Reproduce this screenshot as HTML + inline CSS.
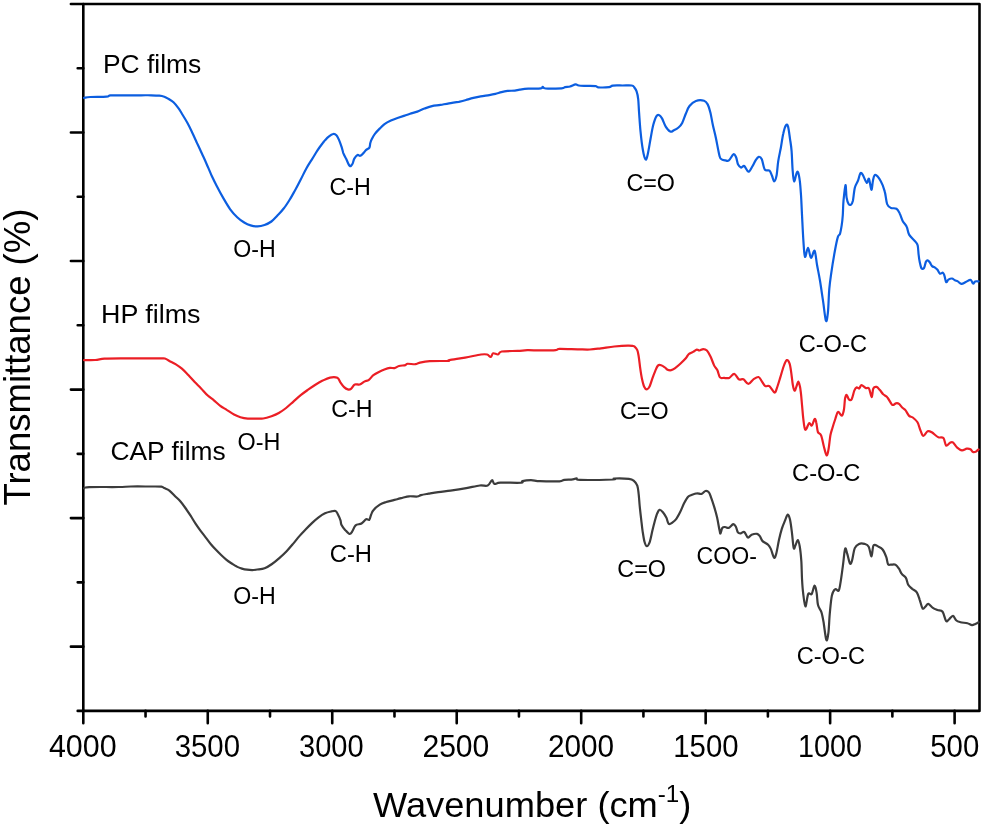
<!DOCTYPE html>
<html><head><meta charset="utf-8"><title>FTIR spectra</title>
<style>
html,body{margin:0;padding:0;background:#fff;}
body{width:984px;height:827px;overflow:hidden;}
svg{display:block;}
text{font-family:"Liberation Sans",Arial,sans-serif;fill:#000;}
</style></head>
<body>
<svg width="984" height="827" viewBox="0 0 984 827">
<rect x="83.3" y="4.0" width="896.2" height="706.9" fill="none" stroke="#000" stroke-width="2.6" stroke-linejoin="round"/>
<path d="M83.30,710.9v12.4M145.54,710.9v5.6M207.77,710.9v12.4M270.01,710.9v5.6M332.24,710.9v12.4M394.48,710.9v5.6M456.72,710.9v12.4M518.95,710.9v5.6M581.19,710.9v12.4M643.42,710.9v5.6M705.66,710.9v12.4M767.90,710.9v5.6M830.13,710.9v12.4M892.37,710.9v5.6M954.61,710.9v12.4M83.3,4.00h-12.4M83.3,68.26h-5.6M83.3,132.53h-12.4M83.3,196.79h-5.6M83.3,261.05h-12.4M83.3,325.32h-5.6M83.3,389.58h-12.4M83.3,453.85h-5.6M83.3,518.11h-12.4M83.3,582.37h-5.6M83.3,646.64h-12.4M83.3,710.90h-5.6" stroke="#000" stroke-width="2.6" stroke-linecap="round" fill="none"/>
<path d="M84.1,97.8C85.1,97.7 86.5,97.2 90.2,97.0C93.9,96.8 103.0,97.0 106.4,96.7C109.8,96.4 107.8,95.6 110.5,95.4C113.2,95.2 117.6,95.3 122.7,95.3C127.8,95.3 136.3,95.3 141.0,95.3C145.7,95.3 148.0,95.2 151.1,95.3C154.2,95.4 157.1,95.5 159.3,95.7C161.5,95.9 162.8,96.2 164.3,96.7C165.8,97.2 166.9,97.9 168.4,98.8C169.9,99.7 171.8,100.7 173.5,102.3C175.2,103.9 177.2,106.5 178.6,108.4C180.0,110.3 180.5,111.4 181.9,113.7C183.3,116.0 185.6,119.6 187.2,122.5C188.8,125.4 190.0,127.8 191.6,131.2C193.2,134.5 195.1,138.8 196.8,142.6C198.6,146.4 200.5,150.5 202.1,154.0C203.7,157.5 204.9,160.0 206.5,163.7C208.1,167.4 210.1,172.2 211.8,176.0C213.6,179.8 215.1,182.8 217.0,186.5C218.9,190.2 221.0,194.1 223.2,197.9C225.4,201.7 227.9,206.1 230.2,209.3C232.5,212.5 234.9,215.0 237.2,217.2C239.5,219.4 242.0,221.1 244.2,222.5C246.4,223.9 248.4,224.8 250.6,225.4C252.8,226.1 255.2,226.5 257.5,226.4C259.8,226.3 262.2,225.8 264.5,225.0C266.8,224.2 269.1,223.2 271.4,221.5C273.7,219.8 276.3,216.8 278.4,214.6C280.5,212.4 282.0,210.7 283.9,208.3C285.8,205.9 287.6,203.0 289.5,200.0C291.4,197.0 293.2,193.6 295.1,190.2C297.0,186.8 298.8,183.4 300.6,179.8C302.5,176.2 304.3,172.1 306.2,168.7C308.1,165.3 309.9,162.6 311.8,159.6C313.7,156.6 315.5,153.4 317.3,150.6C319.1,147.8 321.6,144.6 322.9,142.9C324.2,141.2 324.0,141.4 325.0,140.3C326.0,139.2 327.3,137.7 328.7,136.6C330.1,135.5 331.9,134.2 333.2,134.0C334.5,133.8 335.5,134.3 336.4,135.2C337.3,136.1 337.8,137.4 338.7,139.3C339.6,141.2 340.7,144.4 341.5,146.7C342.3,149.0 342.6,151.1 343.3,153.1C344.1,155.1 344.9,156.5 346.0,158.6C347.1,160.7 348.6,165.0 349.7,165.9C350.8,166.8 351.6,165.2 352.4,164.0C353.2,162.8 353.4,160.1 354.3,158.6C355.2,157.1 356.5,155.4 357.5,154.9C358.5,154.4 359.2,156.1 360.2,155.8C361.2,155.5 362.4,154.1 363.4,153.1C364.4,152.1 365.2,150.8 366.2,149.9C367.2,149.0 368.7,148.8 369.4,147.6C370.1,146.4 369.9,144.4 370.3,143.0C370.7,141.6 370.9,140.8 371.7,139.3C372.5,137.8 373.5,135.7 374.9,133.9C376.3,132.1 378.3,130.0 379.9,128.4C381.5,126.8 382.7,125.5 384.5,124.2C386.3,122.9 388.6,121.7 390.9,120.6C393.2,119.5 395.9,118.6 398.2,117.8C400.5,117.0 402.6,116.3 404.6,115.6C406.6,114.9 408.0,114.4 410.1,113.7C412.2,113.0 414.9,112.5 417.3,111.6C419.7,110.7 422.2,109.4 424.6,108.5C427.1,107.6 429.4,106.7 432.0,106.1C434.6,105.5 437.7,105.4 440.5,104.9C443.3,104.4 445.9,103.8 449.0,103.3C452.1,102.8 455.9,102.3 458.8,101.8C461.7,101.2 463.7,100.7 466.1,100.0C468.5,99.3 471.0,98.5 473.4,97.9C475.8,97.3 478.0,96.8 480.7,96.3C483.4,95.8 486.9,95.5 489.3,95.1C491.8,94.7 493.4,94.4 495.4,93.9C497.4,93.4 499.5,92.6 501.5,92.1C503.5,91.6 505.4,91.2 507.6,90.9C509.8,90.7 512.9,90.8 514.9,90.6C516.9,90.4 517.6,89.9 519.8,89.6C522.0,89.3 524.8,88.9 528.3,88.7C531.8,88.5 538.5,88.6 540.9,88.3C543.3,88.0 541.9,86.8 542.7,86.8C543.5,86.8 542.6,88.2 545.7,88.5C548.9,88.8 558.4,88.5 561.6,88.3C564.9,88.1 563.8,87.4 565.2,87.1C566.6,86.8 568.4,87.0 570.1,86.5C571.8,86.0 574.2,84.6 575.6,84.4C577.0,84.2 577.0,85.2 578.7,85.5C580.4,85.8 583.2,85.8 586.0,85.9C588.8,86.0 593.7,85.9 595.7,86.1C597.7,86.3 596.0,87.1 598.2,87.3C600.4,87.5 606.7,87.4 609.1,87.1C611.5,86.8 610.5,85.9 612.8,85.6C615.0,85.3 619.5,85.5 622.6,85.5C625.8,85.5 629.8,85.2 631.7,85.5C633.6,85.8 633.3,86.1 634.1,87.1C634.9,88.1 635.9,89.3 636.6,91.3C637.3,93.3 637.8,95.5 638.2,99.1C638.6,102.7 638.7,107.6 639.1,112.9C639.5,118.2 639.9,125.1 640.5,131.2C641.1,137.3 641.9,144.8 642.8,149.5C643.6,154.2 644.8,158.8 645.6,159.5C646.4,160.2 647.0,157.5 647.8,154.0C648.6,150.5 649.7,143.4 650.6,138.5C651.5,133.6 652.3,128.5 653.3,124.8C654.3,121.1 655.5,117.7 656.5,116.1C657.5,114.5 658.4,114.8 659.3,115.2C660.2,115.6 660.9,116.5 662.0,118.4C663.1,120.3 664.3,124.4 665.7,126.6C667.1,128.8 668.9,131.0 670.3,131.6C671.7,132.2 672.5,131.0 673.9,130.3C675.3,129.6 677.1,128.7 678.5,127.5C679.9,126.3 681.0,125.2 682.2,122.9C683.4,120.6 684.6,116.6 685.8,113.8C687.0,111.0 687.8,108.1 689.5,106.0C691.2,103.9 693.5,101.9 695.9,101.0C698.3,100.1 702.1,100.2 704.1,100.8C706.1,101.4 706.7,102.6 707.8,104.6C708.9,106.6 709.7,109.5 710.5,112.9C711.3,116.3 711.9,120.5 712.8,124.8C713.7,129.1 714.9,133.3 716.0,138.5C717.1,143.7 718.6,152.7 719.6,156.2C720.6,159.7 720.8,158.6 721.7,159.3C722.7,160.0 724.1,160.2 725.3,160.4C726.5,160.6 727.5,161.4 728.9,160.4C730.3,159.4 732.3,154.7 733.5,154.2C734.7,153.7 735.3,155.6 736.1,157.3C736.9,159.0 737.2,162.8 738.1,164.5C739.0,166.2 740.2,167.3 741.2,167.6C742.2,167.8 743.1,165.3 744.3,166.0C745.5,166.7 747.1,171.5 748.4,171.7C749.7,171.9 750.8,168.9 752.0,167.0C753.2,165.1 754.5,162.1 755.6,160.4C756.7,158.7 757.7,157.0 758.7,156.8C759.7,156.6 760.8,157.2 761.8,159.3C762.8,161.4 763.5,167.7 764.8,169.6C766.1,171.5 768.3,169.6 769.5,170.6C770.7,171.6 771.2,174.0 772.0,175.8C772.8,177.6 773.4,181.4 774.1,181.4C774.9,181.4 775.8,179.1 776.5,175.8C777.2,172.5 777.5,166.0 778.2,161.4C778.9,156.8 779.9,152.6 780.8,148.0C781.6,143.4 782.4,137.4 783.3,133.6C784.1,129.8 785.1,126.6 785.9,125.4C786.7,124.2 787.3,124.2 788.0,126.4C788.7,128.6 789.4,134.7 790.0,138.8C790.6,142.9 791.2,146.0 791.6,151.1C792.0,156.2 792.2,164.5 792.6,169.6C793.0,174.7 793.4,180.9 794.1,181.4C794.8,181.9 796.0,174.1 796.7,172.7C797.4,171.2 797.7,171.3 798.2,172.7C798.7,174.1 799.3,177.2 799.8,180.9C800.3,184.6 800.6,189.3 801.0,195.0C801.4,200.7 801.6,207.3 802.0,214.9C802.4,222.5 802.9,233.8 803.4,240.8C803.9,247.8 804.2,255.6 805.0,256.8C805.8,258.0 807.0,247.6 808.0,247.8C809.0,248.0 809.9,257.3 811.0,257.8C812.1,258.3 813.6,249.6 814.6,250.8C815.6,252.0 816.1,259.8 817.0,264.8C817.9,269.8 819.0,274.8 820.0,280.8C821.0,286.8 822.0,294.1 823.0,300.7C824.0,307.3 825.1,318.7 825.9,320.7C826.7,322.7 827.3,318.0 827.9,312.7C828.5,307.4 828.7,295.4 829.3,288.8C829.9,282.2 830.4,279.1 831.3,272.8C832.2,266.5 833.8,256.8 834.9,250.8C836.0,244.8 837.0,239.7 837.9,236.9C838.8,234.1 839.4,235.6 840.0,233.8C840.6,232.0 841.1,229.0 841.6,225.9C842.1,222.8 842.5,219.2 842.8,215.0C843.1,210.8 843.0,205.8 843.5,200.8C844.0,195.8 845.0,185.6 845.5,185.1C846.0,184.6 846.1,194.5 846.6,197.7C847.1,200.8 847.9,202.8 848.6,204.0C849.3,205.2 850.3,205.2 851.0,204.7C851.7,204.2 852.2,203.7 852.9,200.8C853.5,197.9 854.0,190.9 854.9,187.5C855.8,184.1 857.2,182.8 858.1,180.4C859.0,178.0 859.6,174.2 860.4,173.3C861.2,172.4 861.8,173.3 862.8,174.9C863.8,176.5 865.7,182.2 866.7,182.8C867.7,183.5 868.2,177.6 869.0,178.8C869.8,180.0 870.7,189.5 871.4,189.8C872.1,190.1 872.4,182.9 873.0,180.4C873.6,177.9 874.0,174.8 875.3,174.9C876.6,175.0 879.2,178.4 880.8,181.2C882.4,183.9 883.7,187.6 884.7,191.4C885.8,195.2 886.1,201.2 887.1,204.0C888.1,206.8 889.4,207.1 891.0,207.9C892.6,208.7 895.0,207.8 896.5,208.7C898.0,209.6 898.7,211.3 899.7,213.4C900.8,215.5 901.6,219.0 902.8,221.2C904.0,223.4 905.7,224.5 906.7,226.7C907.8,228.9 907.7,232.1 909.1,234.6C910.5,237.1 914.0,239.8 915.4,241.6C916.8,243.4 917.2,243.4 917.7,245.6C918.2,247.8 918.3,251.8 918.6,254.5C918.9,257.2 919.2,259.5 919.7,261.8C920.2,264.1 920.8,267.3 921.5,268.3C922.2,269.3 923.4,269.0 924.1,267.9C924.8,266.8 925.3,263.1 925.9,261.8C926.5,260.5 927.0,260.2 927.7,260.3C928.4,260.4 929.2,261.5 929.9,262.5C930.6,263.5 931.2,265.2 932.1,266.1C933.0,267.0 934.1,267.0 935.0,267.6C935.9,268.2 936.7,268.8 937.5,269.8C938.3,270.8 939.1,273.2 940.0,273.7C940.9,274.2 942.2,272.4 942.9,272.7C943.6,273.0 943.8,274.0 944.4,275.6C945.0,277.2 945.5,281.4 946.2,282.1C946.9,282.8 947.4,280.2 948.4,279.6C949.4,279.0 950.9,278.4 952.0,278.5C953.1,278.6 953.9,279.8 954.9,280.3C955.9,280.8 956.7,280.8 957.8,281.4C958.9,282.0 960.1,283.8 961.4,283.9C962.7,284.0 964.3,282.8 965.8,282.1C967.3,281.4 969.3,279.7 970.5,279.9C971.7,280.1 972.3,283.2 973.1,283.5C973.9,283.8 974.3,281.8 975.2,281.4C976.1,281.0 978.0,281.4 978.6,281.4" fill="none" stroke="#0c5ee0" stroke-width="2.2" stroke-linejoin="round" stroke-linecap="round"/>
<path d="M84.1,360.2C85.9,360.2 91.8,360.2 95.2,360.0C98.6,359.8 100.2,359.0 104.4,358.7C108.7,358.4 114.6,358.4 120.7,358.4C126.8,358.3 134.2,358.4 141.0,358.4C147.8,358.4 157.2,358.3 161.3,358.4C165.4,358.4 164.1,358.3 165.4,358.7C166.8,359.1 167.7,360.1 169.4,361.0C171.1,361.9 173.4,362.8 175.5,364.1C177.6,365.4 179.8,366.9 181.9,368.7C184.0,370.5 186.2,372.9 188.3,375.1C190.4,377.3 192.6,379.8 194.7,382.0C196.8,384.2 199.0,386.2 201.1,388.4C203.2,390.6 205.4,393.3 207.5,395.3C209.6,397.3 211.8,398.6 213.9,400.3C216.0,402.1 218.2,404.2 220.3,405.8C222.4,407.4 224.4,408.4 226.7,409.9C229.0,411.3 231.7,413.3 234.0,414.5C236.3,415.7 238.1,416.5 240.4,417.2C242.7,417.9 245.4,418.4 247.8,418.6C250.2,418.8 252.4,418.6 255.0,418.6C257.6,418.6 260.4,418.9 263.2,418.5C265.9,418.1 268.9,417.1 271.5,416.2C274.1,415.3 276.4,414.4 278.8,413.0C281.2,411.6 283.7,409.9 286.1,408.0C288.5,406.1 291.0,403.7 293.4,401.6C295.8,399.5 298.2,397.2 300.7,395.2C303.1,393.2 305.7,391.4 308.1,389.7C310.6,387.9 313.0,386.2 315.4,384.7C317.8,383.2 320.3,381.8 322.7,380.6C325.1,379.4 327.6,378.1 330.0,377.6C332.4,377.1 335.6,377.0 337.3,377.8C339.1,378.6 339.4,380.9 340.5,382.5C341.6,384.1 342.9,386.0 344.1,387.1C345.3,388.2 346.7,389.1 347.8,389.4C348.9,389.7 349.9,389.7 351.0,388.9C352.1,388.1 353.2,385.2 354.7,384.5C356.1,383.8 358.1,385.0 359.7,384.5C361.3,384.0 362.8,382.4 364.3,381.6C365.8,380.8 367.4,380.9 368.9,379.8C370.4,378.7 371.7,376.5 373.4,375.2C375.1,373.9 377.1,372.9 378.9,372.0C380.7,371.1 382.6,370.2 384.4,369.5C386.2,368.8 388.2,368.1 389.9,367.9C391.6,367.7 393.0,368.4 394.5,368.1C396.0,367.8 397.2,366.5 399.0,366.0C400.8,365.5 404.0,365.5 405.4,365.1C406.8,364.7 405.6,364.0 407.3,363.8C409.0,363.6 413.5,364.4 415.5,364.2C417.5,364.0 416.8,363.3 419.2,362.8C421.6,362.3 425.0,361.5 429.8,361.2C434.6,360.9 444.8,361.1 448.0,360.9C451.2,360.7 446.4,360.6 449.3,360.0C452.2,359.4 459.8,358.5 465.1,357.6C470.4,356.7 477.3,355.0 481.0,354.5C484.7,354.0 485.5,354.1 487.1,354.5C488.7,354.9 489.7,357.2 490.7,357.0C491.7,356.8 492.0,353.7 493.2,353.3C494.4,352.9 496.6,354.8 498.0,354.5C499.4,354.2 498.4,352.1 501.7,351.5C505.0,350.9 513.3,351.1 517.6,350.9C521.9,350.7 523.6,350.3 527.3,350.2C531.0,350.1 535.3,350.4 540.0,350.4C544.7,350.4 552.5,350.4 555.7,350.1C558.9,349.9 555.7,349.0 559.4,348.9C563.1,348.8 572.6,349.2 577.7,349.3C582.8,349.4 586.0,349.7 589.9,349.5C593.8,349.3 596.8,348.8 600.9,348.3C605.0,347.8 609.8,346.9 614.3,346.5C618.8,346.1 624.7,345.7 627.7,345.6C630.8,345.5 631.5,345.7 632.6,345.9C633.8,346.1 633.8,345.9 634.6,346.6C635.4,347.3 636.6,348.5 637.3,350.1C638.0,351.8 638.2,353.6 638.7,356.5C639.2,359.4 639.6,363.8 640.1,367.4C640.6,371.0 641.2,375.2 641.9,378.4C642.6,381.6 643.4,384.9 644.2,386.7C645.0,388.5 646.0,389.5 646.9,389.4C647.8,389.3 648.8,388.0 649.7,386.2C650.6,384.4 651.5,380.9 652.4,378.4C653.3,375.9 654.3,373.2 655.2,371.1C656.1,369.0 656.9,366.6 657.9,365.6C658.9,364.6 660.0,364.9 661.1,365.2C662.2,365.5 663.7,366.6 664.8,367.4C665.9,368.1 666.4,369.2 667.5,369.7C668.6,370.2 670.0,370.4 671.2,370.2C672.4,370.0 673.3,369.5 674.8,368.4C676.3,367.3 678.5,365.5 680.3,363.8C682.1,362.1 684.4,359.9 685.8,358.3C687.2,356.7 687.4,355.3 688.6,354.2C689.8,353.1 691.7,352.7 693.1,351.9C694.5,351.1 695.7,349.8 696.8,349.6C697.9,349.4 698.4,350.6 699.5,350.5C700.6,350.4 702.0,349.1 703.2,349.1C704.4,349.1 705.7,349.3 706.9,350.5C708.1,351.7 709.3,354.0 710.5,356.5C711.7,359.0 713.1,363.3 714.2,365.6C715.3,367.9 716.3,368.1 717.3,370.1C718.3,372.1 718.9,376.1 720.0,377.4C721.1,378.7 722.6,377.8 724.1,377.9C725.6,378.0 727.5,378.6 729.2,377.9C730.9,377.2 732.6,373.6 734.2,373.8C735.8,374.0 737.3,378.4 738.8,379.3C740.3,380.2 741.8,378.5 743.4,379.3C745.0,380.1 746.7,383.9 748.4,383.9C750.1,383.9 751.7,380.4 753.4,379.3C755.1,378.2 757.1,376.7 758.5,377.0C759.9,377.3 760.6,379.6 761.7,381.1C762.8,382.6 764.0,385.3 765.3,386.1C766.6,386.9 767.9,385.0 769.4,386.1C770.9,387.2 773.3,392.1 774.5,392.5C775.7,392.9 775.9,390.8 776.8,388.4C777.7,386.0 778.9,382.0 780.0,378.4C781.1,374.8 782.5,369.6 783.6,366.5C784.7,363.4 785.8,360.6 786.8,360.1C787.8,359.6 788.8,361.4 789.6,363.7C790.4,366.0 790.9,370.3 791.4,373.8C791.9,377.3 792.3,382.0 792.8,384.8C793.3,387.6 794.0,390.4 794.6,390.7C795.2,391.0 795.8,388.1 796.4,386.6C797.0,385.1 797.7,381.7 798.3,381.6C798.9,381.6 799.4,384.2 799.9,386.3C800.4,388.4 800.6,390.6 801.0,393.9C801.4,397.2 801.7,401.9 802.1,405.9C802.5,409.9 802.7,413.9 803.2,417.9C803.7,421.9 804.3,428.9 805.3,429.8C806.3,430.7 808.0,424.0 809.1,423.3C810.2,422.6 811.0,426.2 811.9,425.5C812.8,424.8 813.9,419.6 814.6,419.0C815.3,418.4 815.7,420.0 816.2,422.2C816.8,424.4 817.1,429.8 817.9,432.0C818.7,434.2 820.1,432.9 821.1,435.3C822.1,437.7 822.9,442.9 823.8,446.2C824.7,449.5 825.8,455.0 826.6,455.4C827.4,455.8 828.1,451.6 828.7,448.3C829.3,445.0 829.8,438.7 830.4,435.3C831.0,431.9 831.7,430.4 832.5,427.7C833.3,425.0 834.4,421.6 835.3,419.0C836.2,416.4 836.9,412.4 838.0,411.9C839.1,411.3 840.8,416.1 841.8,415.7C842.8,415.2 843.5,412.1 844.0,409.2C844.5,406.3 844.6,400.7 845.1,398.3C845.6,395.9 846.1,394.8 846.7,395.0C847.3,395.2 848.1,398.7 848.9,399.4C849.7,400.1 850.7,400.8 851.6,399.4C852.5,397.9 853.5,392.7 854.3,390.7C855.1,388.7 855.7,387.8 856.5,387.4C857.3,387.0 858.4,388.9 859.2,388.5C860.0,388.1 860.3,385.3 861.4,385.2C862.5,385.1 864.4,387.4 865.7,388.0C867.0,388.6 868.0,387.0 869.0,388.5C870.0,390.0 871.0,397.2 871.7,397.2C872.4,397.2 872.5,390.2 873.3,388.5C874.1,386.8 875.5,386.6 876.6,386.9C877.7,387.2 878.8,388.9 879.9,390.1C881.0,391.3 882.0,393.1 883.2,394.3C884.5,395.5 885.9,395.6 887.4,397.4C888.9,399.1 890.8,403.8 892.2,404.8C893.6,405.8 894.8,403.5 895.9,403.3C897.0,403.1 898.0,403.1 899.0,403.8C900.0,404.5 901.1,406.4 902.2,407.5C903.3,408.6 904.2,408.7 905.4,410.1C906.5,411.5 907.9,414.7 909.1,415.9C910.3,417.1 911.4,416.4 912.8,417.5C914.2,418.6 916.3,420.3 917.5,422.3C918.7,424.3 919.2,427.4 920.2,429.7C921.2,432.0 922.1,435.7 923.3,436.0C924.5,436.3 926.2,431.9 927.6,431.3C929.0,430.7 930.0,431.3 931.8,432.3C933.5,433.3 936.2,436.1 938.1,437.1C940.0,438.1 942.1,436.7 943.4,438.1C944.7,439.5 945.0,444.7 946.1,445.5C947.2,446.3 948.7,443.4 949.8,442.9C950.9,442.4 951.7,441.6 952.9,442.4C954.1,443.2 955.7,446.4 957.2,447.7C958.7,449.0 960.3,450.1 961.9,450.3C963.5,450.5 965.3,448.9 966.7,448.7C968.1,448.5 969.4,448.7 970.4,449.2C971.4,449.7 972.0,451.5 973.0,451.9C974.0,452.3 975.3,451.8 976.2,451.4C977.1,451.0 978.2,449.7 978.6,449.4" fill="none" stroke="#eb1e25" stroke-width="2.2" stroke-linejoin="round" stroke-linecap="round"/>
<path d="M84.1,488.3C84.9,488.1 83.3,487.3 89.1,487.1C94.8,486.9 111.6,487.1 118.6,487.0C125.5,486.9 125.4,486.6 130.8,486.5C136.2,486.4 146.0,486.5 151.1,486.5C156.2,486.5 159.1,486.4 161.3,486.7C163.5,487.0 163.0,487.5 164.3,488.1C165.7,488.8 167.6,489.2 169.4,490.6C171.2,492.0 173.3,494.4 175.1,496.2C176.9,498.0 178.6,499.3 180.3,501.3C182.0,503.3 183.7,505.6 185.4,508.0C187.1,510.4 188.9,513.1 190.6,515.7C192.3,518.4 194.0,521.3 195.7,523.9C197.4,526.5 199.1,528.8 200.8,531.1C202.5,533.4 204.3,535.6 206.0,537.8C207.7,540.0 209.4,542.5 211.1,544.5C212.8,546.5 214.5,548.3 216.2,550.1C217.9,551.9 219.7,553.7 221.4,555.3C223.1,556.9 224.8,558.5 226.5,559.9C228.2,561.3 230.0,562.4 231.7,563.5C233.4,564.6 235.1,565.8 236.8,566.6C238.5,567.5 240.2,568.1 241.9,568.6C243.6,569.1 245.4,569.5 247.1,569.7C248.8,570.0 250.5,570.1 252.2,570.1C253.9,570.1 255.2,569.8 257.3,569.5C259.4,569.2 262.2,569.1 264.6,568.2C267.1,567.3 269.6,565.7 272.0,564.0C274.4,562.3 276.9,560.2 279.3,558.1C281.7,556.0 284.3,553.6 286.6,551.2C288.9,548.8 290.9,546.4 293.0,543.9C295.1,541.4 297.3,538.5 299.4,536.1C301.5,533.7 303.7,531.5 305.8,529.3C307.9,527.1 310.1,524.9 312.2,522.9C314.3,520.9 316.5,519.0 318.6,517.4C320.7,515.8 322.9,514.3 325.0,513.3C327.1,512.3 329.6,511.8 331.4,511.4C333.1,511.0 334.4,510.6 335.5,511.0C336.6,511.4 336.9,512.4 337.7,513.9C338.5,515.4 339.9,518.5 340.5,520.3C341.1,522.1 340.6,523.2 341.4,524.8C342.2,526.4 343.7,528.4 345.1,529.9C346.5,531.4 348.4,533.8 349.6,534.0C350.8,534.2 351.4,532.7 352.4,531.2C353.4,529.8 354.1,526.6 355.6,525.3C357.1,524.0 359.8,524.5 361.5,523.5C363.2,522.5 364.8,519.9 366.1,519.3C367.4,518.7 368.5,520.5 369.3,519.8C370.1,519.0 370.4,516.4 371.1,514.8C371.8,513.2 371.9,511.9 373.4,510.2C374.8,508.5 377.7,506.1 379.8,504.7C381.9,503.3 384.2,502.7 386.2,502.0C388.2,501.3 389.9,501.1 391.7,500.6C393.5,500.1 395.4,499.7 397.2,499.2C399.0,498.7 400.7,498.3 402.7,497.8C404.7,497.3 406.7,496.5 409.1,496.3C411.5,496.1 415.3,496.7 417.3,496.5C419.3,496.3 419.1,495.6 421.0,495.1C422.9,494.6 425.6,494.2 428.5,493.7C431.4,493.2 434.6,492.6 438.3,492.1C442.0,491.6 445.8,491.2 450.5,490.6C455.2,490.0 461.4,489.1 466.3,488.2C471.2,487.3 476.2,485.9 479.8,485.5C483.4,485.1 485.7,486.4 487.7,485.5C489.7,484.6 490.9,480.5 492.0,480.2C493.1,479.9 493.0,483.5 494.4,483.9C495.8,484.3 496.0,482.9 500.5,482.7C505.0,482.5 517.6,483.0 521.2,482.7C524.9,482.4 520.8,481.5 522.4,481.1C524.0,480.7 528.1,480.2 531.0,480.2C533.9,480.2 535.3,481.0 540.0,481.2C544.7,481.4 555.4,481.5 559.4,481.3C563.4,481.1 562.1,480.1 564.3,479.8C566.5,479.5 570.8,479.6 572.8,479.3C574.8,479.1 575.3,478.2 576.5,478.3C577.7,478.4 574.0,479.7 580.1,479.9C586.2,480.1 607.3,479.7 613.0,479.5C618.7,479.3 611.6,478.6 614.3,478.5C616.9,478.4 625.6,478.5 628.9,478.9C632.2,479.3 632.5,479.7 633.9,480.8C635.3,481.9 636.5,483.3 637.3,485.6C638.1,487.9 638.3,491.0 638.7,494.4C639.1,497.8 639.3,502.0 639.7,506.0C640.1,510.0 640.6,514.4 641.1,518.6C641.6,522.8 642.0,527.2 642.6,531.1C643.2,535.0 643.8,539.3 644.5,541.8C645.2,544.3 646.0,546.2 646.9,546.2C647.8,546.2 648.9,544.3 649.8,541.8C650.7,539.3 651.5,534.5 652.3,531.1C653.1,527.7 653.9,524.4 654.7,521.5C655.5,518.6 656.3,515.7 657.1,513.7C657.9,511.8 658.5,510.0 659.5,509.8C660.5,509.6 661.8,511.0 662.9,512.3C664.0,513.6 665.3,515.7 666.3,517.6C667.3,519.5 667.7,523.1 668.7,523.9C669.8,524.7 671.3,523.3 672.6,522.4C673.9,521.5 675.2,520.4 676.5,518.6C677.8,516.8 679.0,514.4 680.3,511.8C681.6,509.2 682.9,505.6 684.2,503.1C685.5,500.6 686.8,498.2 688.1,496.8C689.4,495.4 690.5,495.4 692.0,494.8C693.5,494.2 695.2,493.5 696.8,493.4C698.4,493.2 700.1,494.3 701.6,493.9C703.1,493.5 704.3,491.2 705.5,491.0C706.7,490.8 707.9,491.2 708.9,492.4C709.9,493.6 710.4,495.8 711.3,498.2C712.2,500.6 713.2,503.7 714.2,506.9C715.2,510.1 716.2,513.6 717.1,517.6C718.0,521.6 719.0,528.0 719.6,530.6C720.2,533.2 720.0,533.9 720.5,533.4C721.0,532.9 721.5,529.0 722.3,527.9C723.1,526.8 724.0,527.0 725.1,527.0C726.2,527.0 727.3,528.4 728.7,527.9C730.1,527.4 732.1,524.4 733.3,524.2C734.5,524.1 735.2,525.6 736.0,527.0C736.8,528.4 737.1,531.3 737.9,532.4C738.7,533.5 739.5,533.5 740.6,533.4C741.7,533.3 743.1,531.3 744.3,532.0C745.5,532.7 746.7,537.0 747.9,537.5C749.1,538.0 750.1,535.3 751.6,534.7C753.1,534.1 755.7,533.6 757.1,533.8C758.5,534.0 758.9,534.9 759.8,536.1C760.7,537.3 761.2,539.7 762.6,541.1C764.0,542.5 766.7,543.5 768.1,544.8C769.5,546.1 769.8,546.8 770.8,548.9C771.8,551.0 773.1,556.8 774.0,557.6C774.9,558.4 775.5,556.5 776.3,553.5C777.1,550.5 778.1,543.9 779.0,539.8C779.9,535.7 780.8,532.0 781.8,528.8C782.8,525.6 784.0,523.0 785.0,520.6C786.0,518.2 786.9,514.8 787.7,514.6C788.5,514.4 789.3,516.6 790.0,519.6C790.7,522.6 791.3,527.7 791.9,532.4C792.5,537.1 793.1,545.9 793.7,548.0C794.3,550.1 794.8,546.6 795.5,545.3C796.2,544.0 797.1,539.8 797.8,540.0C798.5,540.2 799.1,542.9 799.7,546.3C800.3,549.7 800.9,555.2 801.3,560.6C801.7,566.0 801.7,573.4 802.0,578.7C802.3,584.0 802.5,588.0 803.1,592.6C803.7,597.2 804.5,606.3 805.4,606.5C806.2,606.7 807.2,596.1 808.2,594.0C809.2,591.9 810.7,595.4 811.7,594.0C812.8,592.6 813.7,585.8 814.5,585.6C815.3,585.4 816.0,589.4 816.6,592.6C817.2,595.9 817.2,601.9 818.0,605.1C818.8,608.4 820.5,609.3 821.4,612.1C822.3,614.9 822.7,617.2 823.5,621.8C824.3,626.4 825.5,638.0 826.3,639.9C827.1,641.8 827.8,637.3 828.4,632.9C829.0,628.5 829.2,619.6 829.8,613.4C830.4,607.1 831.0,599.4 831.9,595.4C832.8,591.4 834.1,589.9 835.3,589.1C836.4,588.3 837.9,592.0 838.8,590.5C839.7,589.0 840.2,584.4 840.9,580.1C841.6,575.8 842.3,570.0 843.0,564.8C843.7,559.6 844.4,550.7 845.1,548.8C845.8,546.9 846.4,551.2 847.2,553.6C848.0,556.0 849.1,562.2 849.9,563.4C850.7,564.6 851.2,563.1 852.0,560.6C852.8,558.1 853.6,550.9 854.8,548.1C856.0,545.3 857.4,544.6 859.0,543.9C860.6,543.2 862.9,543.4 864.5,543.9C866.1,544.4 867.5,544.6 868.7,546.7C869.9,548.8 870.7,556.6 871.5,556.4C872.3,556.2 872.4,546.9 873.6,545.3C874.8,543.7 877.0,546.0 878.5,546.7C880.0,547.4 881.3,547.8 882.6,549.5C883.9,551.2 885.4,554.8 886.3,557.2C887.2,559.6 887.2,562.9 888.0,564.1C888.8,565.4 889.6,564.6 890.9,564.7C892.1,564.8 894.1,564.0 895.5,564.7C896.9,565.4 898.0,567.2 899.0,568.7C900.0,570.2 900.6,572.4 901.8,573.9C902.9,575.4 904.8,576.1 905.9,577.9C907.0,579.7 907.2,583.0 908.2,584.8C909.2,586.6 910.8,587.6 912.2,588.9C913.6,590.1 915.5,590.5 916.8,592.3C918.0,594.1 918.8,597.1 919.7,599.8C920.7,602.5 921.5,607.2 922.5,608.4C923.5,609.5 924.4,607.5 925.4,606.7C926.4,605.9 927.0,603.6 928.3,603.8C929.5,604.0 931.4,606.8 932.9,607.8C934.4,608.8 935.9,609.4 937.5,610.1C939.1,610.8 941.2,610.0 942.6,611.8C944.0,613.6 945.0,619.8 946.1,621.0C947.2,622.2 947.9,620.1 949.0,619.3C950.1,618.4 951.8,615.7 953.0,615.9C954.2,616.1 955.1,619.5 956.4,620.5C957.6,621.5 958.7,621.7 960.5,622.2C962.3,622.7 965.5,622.8 967.4,623.3C969.3,623.8 970.7,625.0 972.0,625.1C973.3,625.2 974.3,624.4 975.4,623.9C976.5,623.4 978.1,622.5 978.6,622.2" fill="none" stroke="#3c3c3c" stroke-width="2.2" stroke-linejoin="round" stroke-linecap="round"/>
<text transform="translate(102.93,72.80) scale(1.0370,1)" font-size="25.5">PC films</text>
<text transform="translate(100.99,322.70) scale(1.0546,1)" font-size="25.5">HP films</text>
<text transform="translate(110.55,459.90) scale(1.0332,1)" font-size="25.5">CAP films</text>
<text transform="translate(233.29,256.70) scale(0.9863,1)" font-size="23.5">O-H</text>
<text transform="translate(329.40,195.40) scale(0.9901,1)" font-size="23.5">C-H</text>
<text transform="translate(626.40,190.90) scale(0.9920,1)" font-size="23.5">C=O</text>
<text transform="translate(798.68,352.10) scale(1.0065,1)" font-size="23.5">C-O-C</text>
<text transform="translate(237.49,450.30) scale(0.9955,1)" font-size="23.5">O-H</text>
<text transform="translate(331.20,417.40) scale(0.9901,1)" font-size="23.5">C-H</text>
<text transform="translate(620.01,418.60) scale(0.9918,1)" font-size="23.5">C=O</text>
<text transform="translate(792.08,481.10) scale(1.0065,1)" font-size="23.5">C-O-C</text>
<text transform="translate(233.29,604.40) scale(0.9863,1)" font-size="23.5">O-H</text>
<text transform="translate(329.77,562.20) scale(1.0109,1)" font-size="23.5">C-H</text>
<text transform="translate(617.31,576.50) scale(0.9916,1)" font-size="23.5">C=O</text>
<text transform="translate(696.51,563.70) scale(0.9833,1)" font-size="23.5">COO-</text>
<text transform="translate(796.68,663.90) scale(1.0065,1)" font-size="23.5">C-O-C</text>
<text transform="translate(48.90,757.40) scale(0.9569,1)" font-size="31.8">4000</text>
<text transform="translate(174.68,757.40) scale(0.9239,1)" font-size="31.8">3500</text>
<text transform="translate(299.00,757.40) scale(0.9148,1)" font-size="31.8">3000</text>
<text transform="translate(422.39,757.40) scale(0.9468,1)" font-size="31.8">2500</text>
<text transform="translate(547.90,757.40) scale(0.9356,1)" font-size="31.8">2000</text>
<text transform="translate(673.30,757.40) scale(0.9225,1)" font-size="31.8">1500</text>
<text transform="translate(798.11,757.40) scale(0.9050,1)" font-size="31.8">1000</text>
<text transform="translate(930.22,757.40) scale(0.9242,1)" font-size="31.8">500</text>
<text transform="translate(373.00,817.30) scale(1.0078,1)" font-size="36">Wavenumber (cm<tspan dy="-15.5" font-size="24">-1</tspan><tspan dy="15.5">)</tspan></text>
<text transform="translate(30.00,505.50) rotate(-90) scale(1.0145,1)" font-size="36">Transmittance (%)</text>
</svg>
</body></html>
